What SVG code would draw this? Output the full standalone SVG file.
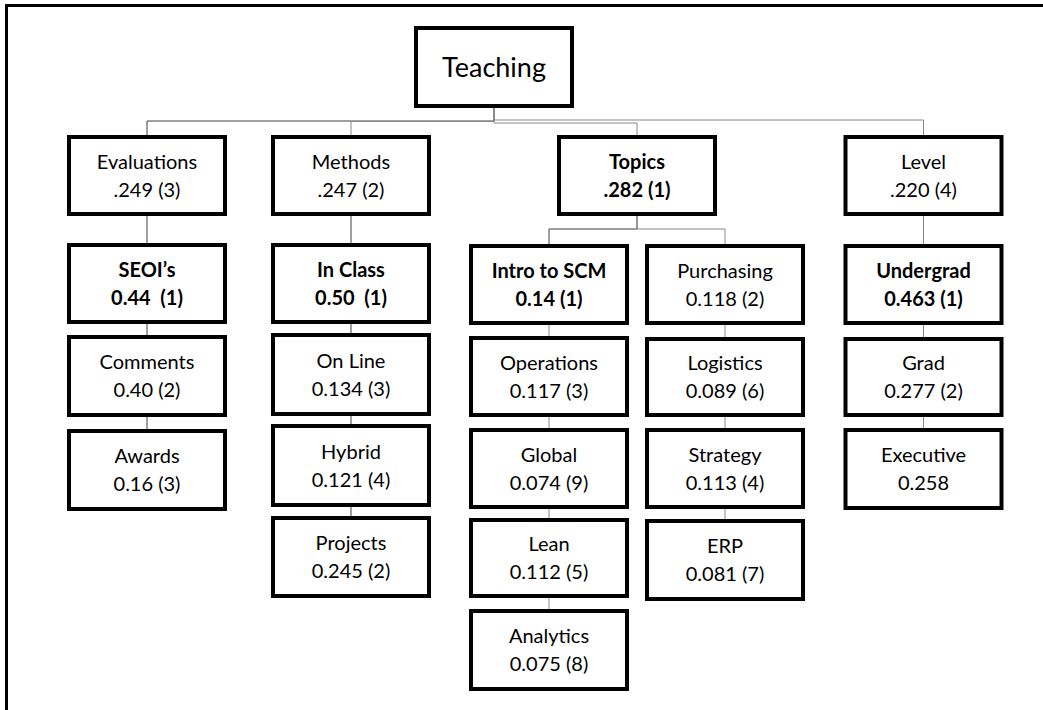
<svg xmlns="http://www.w3.org/2000/svg" width="1043" height="710" viewBox="0 0 1043 710">
<style>
.bx{fill:#fff;stroke:#000;stroke-width:4}
.t{font-family:Lato,"Noto Sans",sans-serif;font-size:20px;fill:#000;text-anchor:middle;white-space:pre}
.b{font-weight:bold}
.c{fill:none;stroke:#404040;stroke-width:1}
.g{fill:none;stroke:#888;stroke-width:1}
.fr{fill:none;stroke:#000;stroke-width:3}
</style>
<rect x="0" y="0" width="1043" height="710" fill="#fff"/>
<path class="fr" d="M6.5,710 V5.5 H1043"/>
<g id="connectors">
<polyline class="c" points="494,108 494,121 147,121 147,135"/>
<polyline class="g" points="494,108 494,121.5 351,121.5 351,135"/>
<polyline class="g" points="494,108 494,123 637,123 637,135"/>
<polyline class="g" points="494,108 494,120 923.5,120 923.5,135"/>
<polyline class="c" points="637,216 637,229 549,229 549,244"/>
<polyline class="g" points="637,216 637,229 725,229 725,244"/>
<line class="c" x1="147" y1="216" x2="147" y2="243"/>
<line class="c" x1="147" y1="324" x2="147" y2="335"/>
<line class="c" x1="147" y1="417" x2="147" y2="429"/>
<line class="c" x1="351" y1="216" x2="351" y2="243"/>
<line class="c" x1="351" y1="324" x2="351" y2="333"/>
<line class="c" x1="351" y1="416" x2="351" y2="424"/>
<line class="c" x1="351" y1="507" x2="351" y2="516"/>
<line class="g" x1="549" y1="325" x2="549" y2="336"/>
<line class="g" x1="549" y1="417" x2="549" y2="428"/>
<line class="g" x1="549" y1="509" x2="549" y2="518"/>
<line class="g" x1="549" y1="598" x2="549" y2="609"/>
<line class="g" x1="725" y1="325" x2="725" y2="337"/>
<line class="g" x1="725" y1="417" x2="725" y2="428"/>
<line class="g" x1="725" y1="509" x2="725" y2="519"/>
<line class="g" x1="923.5" y1="216" x2="923.5" y2="244"/>
<line class="g" x1="923.5" y1="325" x2="923.5" y2="337"/>
<line class="g" x1="923.5" y1="417" x2="923.5" y2="428"/>
</g>
<g id="teaching"><rect class="bx" x="416" y="28" width="156" height="78"/><text class="t" x="494" y="77" style="font-size:27px">Teaching</text></g>

<g id="evaluations"><rect class="bx" x="69" y="137" width="156" height="77"/><text class="t" x="147" y="169">Evaluations</text><text class="t" x="147" y="197">.249 (3)</text></g>
<g id="methods"><rect class="bx" x="273" y="137" width="156" height="77"/><text class="t" x="351" y="169">Methods</text><text class="t" x="351" y="197">.247 (2)</text></g>
<g id="topics"><rect class="bx" x="559" y="137" width="156" height="77"/><text class="t b" x="637" y="169">Topics</text><text class="t b" x="637" y="197">.282 (1)</text></g>
<g id="level"><rect class="bx" x="845.5" y="137" width="156" height="77"/><text class="t" x="923.5" y="169">Level</text><text class="t" x="923.5" y="197">.220 (4)</text></g>

<g id="seois"><rect class="bx" x="69" y="245" width="156" height="77"/><text class="t b" x="147" y="277">SEOI’s</text><text class="t b" x="147" y="305">0.44  (1)</text></g>
<g id="comments"><rect class="bx" x="69" y="337" width="156" height="78"/><text class="t" x="147" y="369">Comments</text><text class="t" x="147" y="397">0.40 (2)</text></g>
<g id="awards"><rect class="bx" x="69" y="431" width="156" height="78"/><text class="t" x="147" y="463">Awards</text><text class="t" x="147" y="491">0.16 (3)</text></g>

<g id="inclass"><rect class="bx" x="273" y="245" width="156" height="77"/><text class="t b" x="351" y="277">In Class</text><text class="t b" x="351" y="305">0.50  (1)</text></g>
<g id="online"><rect class="bx" x="273" y="335" width="156" height="79"/><text class="t" x="351" y="368">On Line</text><text class="t" x="351" y="396">0.134 (3)</text></g>
<g id="hybrid"><rect class="bx" x="273" y="426" width="156" height="79"/><text class="t" x="351" y="459">Hybrid</text><text class="t" x="351" y="487">0.121 (4)</text></g>
<g id="projects"><rect class="bx" x="273" y="518" width="156" height="78"/><text class="t" x="351" y="550">Projects</text><text class="t" x="351" y="578">0.245 (2)</text></g>

<g id="intro"><rect class="bx" x="471" y="246" width="156" height="77"/><text class="t b" x="549" y="278">Intro to SCM</text><text class="t b" x="549" y="306">0.14 (1)</text></g>
<g id="operations"><rect class="bx" x="471" y="338" width="156" height="77"/><text class="t" x="549" y="370">Operations</text><text class="t" x="549" y="398">0.117 (3)</text></g>
<g id="global"><rect class="bx" x="471" y="430" width="156" height="77"/><text class="t" x="549" y="462">Global</text><text class="t" x="549" y="490">0.074 (9)</text></g>
<g id="lean"><rect class="bx" x="471" y="520" width="156" height="76"/><text class="t" x="549" y="551">Lean</text><text class="t" x="549" y="579">0.112 (5)</text></g>
<g id="analytics"><rect class="bx" x="471" y="611" width="156" height="78"/><text class="t" x="549" y="643">Analytics</text><text class="t" x="549" y="671">0.075 (8)</text></g>

<g id="purchasing"><rect class="bx" x="647" y="246" width="156" height="77"/><text class="t" x="725" y="278">Purchasing</text><text class="t" x="725" y="306">0.118 (2)</text></g>
<g id="logistics"><rect class="bx" x="647" y="339" width="156" height="76"/><text class="t" x="725" y="370">Logistics</text><text class="t" x="725" y="398">0.089 (6)</text></g>
<g id="strategy"><rect class="bx" x="647" y="430" width="156" height="77"/><text class="t" x="725" y="462">Strategy</text><text class="t" x="725" y="490">0.113 (4)</text></g>
<g id="erp"><rect class="bx" x="647" y="521" width="156" height="78"/><text class="t" x="725" y="553">ERP</text><text class="t" x="725" y="581">0.081 (7)</text></g>

<g id="undergrad"><rect class="bx" x="845.5" y="246" width="156" height="77"/><text class="t b" x="923.5" y="278">Undergrad</text><text class="t b" x="923.5" y="306">0.463 (1)</text></g>
<g id="grad"><rect class="bx" x="845.5" y="339" width="156" height="76"/><text class="t" x="923.5" y="370">Grad</text><text class="t" x="923.5" y="398">0.277 (2)</text></g>
<g id="executive"><rect class="bx" x="845.5" y="430" width="156" height="78"/><text class="t" x="923.5" y="462">Executive</text><text class="t" x="923.5" y="490">0.258</text></g>
</svg>
